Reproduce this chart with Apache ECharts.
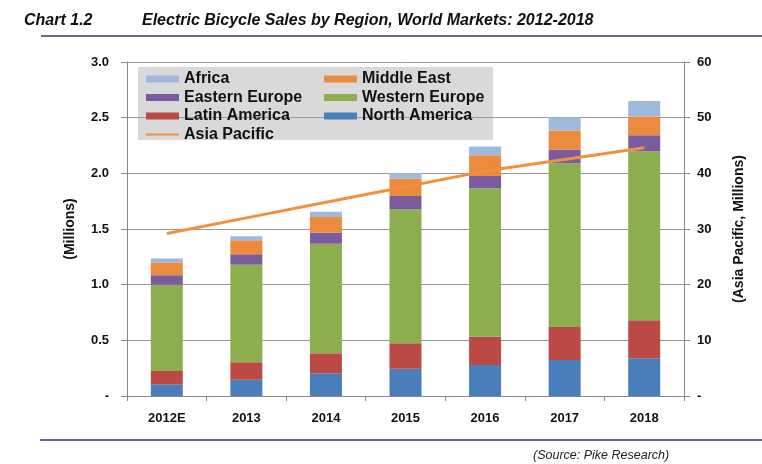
<!DOCTYPE html>
<html>
<head>
<meta charset="utf-8">
<script src="https://cdn.jsdelivr.net/npm/echarts@6/dist/echarts.min.js"></script>
<style>
html,body{margin:0;padding:0;background:#fff;}
#c{width:762px;height:464px;}
</style>
</head>
<body>
<div id="c"></div>
<script>
const categories = ['2012E','2013','2014','2015','2016','2017','2018'];
const northAmerica  = [0.105,0.147,0.204,0.245,0.278,0.323,0.338];
const latinAmerica  = [0.120,0.156,0.180,0.228,0.255,0.297,0.342];
const westernEurope = [0.775,0.877,0.984,1.204,1.333,1.470,1.518];
const easternEurope = [0.085,0.093,0.099,0.120,0.110,0.123,0.144];
const middleEast    = [0.115,0.127,0.141,0.155,0.186,0.171,0.168];
const africa        = [0.035,0.035,0.048,0.050,0.078,0.120,0.140];
const asiaPacific   = [29.2,32.0,34.8,37.6,40.4,42.5,44.6];
const leftTicks = [0,0.5,1.0,1.5,2.0,2.5,3.0];
const rightTicks = [0,10,20,30,40,50,60];

const colors = {
  'North America':'#4a7ebb','Latin America':'#bb4a47','Western Europe':'#8cae4f',
  'Eastern Europe':'#7a5c9e','Middle East':'#ec8a3d','Africa':'#9fb9dc','Asia Pacific':'#f0913f'
};
const FONT = '"Liberation Sans", Arial, sans-serif';

function bar(name, data){
  return {name, type:'bar', stack:'s', data, barWidth:32, yAxisIndex:0,
    itemStyle:{color:colors[name]}};
}
const legendText = {fontFamily:FONT,fontSize:16,fontWeight:'bold',color:'#111',lineHeight:16};

const chart = echarts.init(document.getElementById('c'), null, {renderer:'canvas'});
chart.setOption({
  animation:false,
  textStyle:{fontFamily:FONT},
  title:[
    {text:'Chart 1.2', left:19, top:8, textStyle:{fontFamily:FONT,fontSize:16,fontWeight:'bold',fontStyle:'italic',color:'#111'}},
    {text:'Electric Bicycle Sales by Region, World Markets: 2012-2018', left:137, top:8, textStyle:{fontFamily:FONT,fontSize:16,fontWeight:'bold',fontStyle:'italic',color:'#111'}},
    {text:'(Source: Pike Research)', left:528, top:444, textStyle:{fontFamily:FONT,fontSize:12.5,fontWeight:'normal',fontStyle:'italic',color:'#222'}}
  ],
  graphic:[
    {type:'rect', shape:{x:41,y:35,width:721,height:2}, style:{fill:'#66668e'}},
    {type:'rect', shape:{x:40,y:439,width:722,height:2}, style:{fill:'#66668e'}},
    {type:'rect', z:0, shape:{x:138,y:67,width:355,height:73}, style:{fill:'#d9d9d9'}}
  ],
  grid:{left:127, right:78, top:62, bottom:68},
  legend:[
    {orient:'vertical', left:141, top:66, itemWidth:33, itemHeight:7, itemGap:2.5, icon:'rect',
     data:['Africa','Eastern Europe','Latin America',
       {name:'Asia Pacific', icon:'path://M0,0H33V2H0Z'}],
     textStyle:legendText, z:5},
    {orient:'vertical', left:319, top:66, itemWidth:33, itemHeight:7, itemGap:2.5, icon:'rect',
     data:['Middle East','Western Europe','North America'],
     textStyle:legendText, z:5}
  ],
  xAxis:{type:'category', data:categories, boundaryGap:true,
    axisLine:{lineStyle:{color:'#888'}},
    axisTick:{show:true, alignWithLabel:false, length:5, lineStyle:{color:'#888'}},
    axisLabel:{fontFamily:FONT,fontSize:13,fontWeight:'bold',color:'#111',margin:16}},
  yAxis:[
    {type:'value', min:0, max:3, interval:0.5, position:'left',
     axisLine:{show:true,lineStyle:{color:'#888'}},
     axisTick:{show:true,length:6,lineStyle:{color:'#888'}},
     splitLine:{lineStyle:{color:'#999'}},
     axisLabel:{fontFamily:FONT,fontSize:13,fontWeight:'bold',color:'#111',margin:18,
       formatter:v=> v===0?'-':v.toFixed(1)},
     name:'(Millions)', nameLocation:'middle', nameGap:50, nameRotate:90,
     nameTextStyle:{fontFamily:FONT,fontSize:14,fontWeight:'bold',color:'#111'}},
    {type:'value', min:0, max:60, interval:10, position:'right',
     axisLine:{show:true,lineStyle:{color:'#888'}},
     axisTick:{show:true,length:6,lineStyle:{color:'#888'}},
     splitLine:{show:false},
     axisLabel:{fontFamily:FONT,fontSize:13,fontWeight:'bold',color:'#111',margin:13,
       formatter:v=> v===0?'-':String(v)},
     name:'(Asia Pacific, Millions)', nameLocation:'middle', nameGap:48, nameRotate:90,
     nameTextStyle:{fontFamily:FONT,fontSize:14,fontWeight:'bold',color:'#111'}}
  ],
  series:[
    bar('North America', northAmerica),
    bar('Latin America', latinAmerica),
    bar('Western Europe', westernEurope),
    bar('Eastern Europe', easternEurope),
    bar('Middle East', middleEast),
    bar('Africa', africa),
    {name:'Asia Pacific', type:'line', yAxisIndex:1, data:asiaPacific, symbol:'none',
     lineStyle:{color:colors['Asia Pacific'], width:3}, itemStyle:{color:colors['Asia Pacific']}, z:10}
  ]
});
</script>
</body>
</html>
